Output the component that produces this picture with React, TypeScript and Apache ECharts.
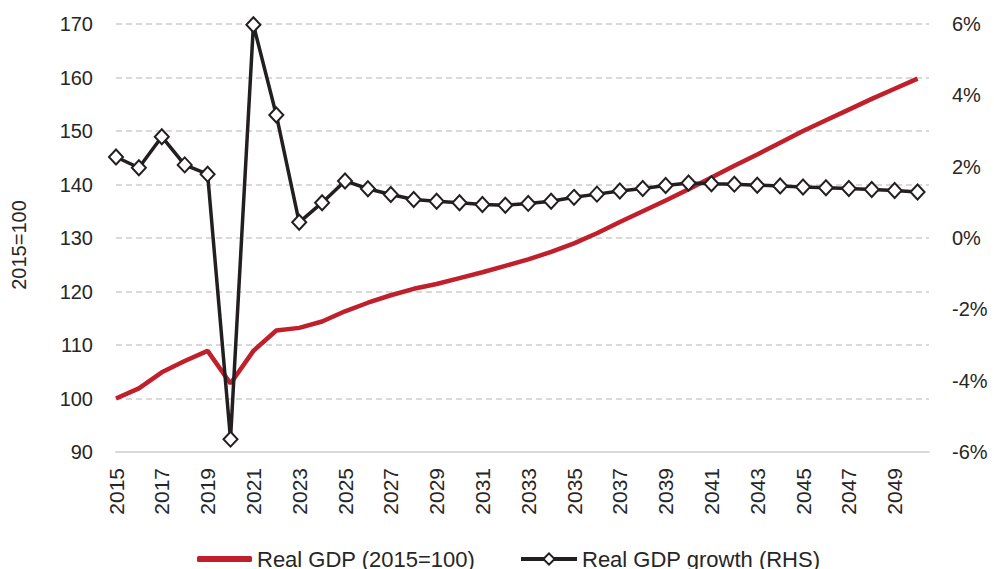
import React, { useEffect, useRef } from "react";
import * as echarts from "echarts";

const years = [
  2015, 2016, 2017, 2018, 2019, 2020, 2021, 2022, 2023, 2024, 2025, 2026,
  2027, 2028, 2029, 2030, 2031, 2032, 2033, 2034, 2035, 2036, 2037, 2038,
  2039, 2040, 2041, 2042, 2043, 2044, 2045, 2046, 2047, 2048, 2049, 2050,
];

const realGdp = [
  100, 101.9, 104.9, 107.0, 108.9, 102.8, 108.9, 112.7, 113.2, 114.4, 116.3,
  117.9, 119.3, 120.5, 121.4, 122.5, 123.6, 124.8, 126.0, 127.4, 129.0, 130.9,
  133.0, 135.0, 137.0, 139.1, 141.3, 143.5, 145.6, 147.8, 150.0, 152.0, 154.0,
  156.0, 157.9, 159.8,
];

const gdpGrowth = [
  2.27, 1.97, 2.84, 2.05, 1.79, -5.64, 5.98, 3.45, 0.44, 0.99, 1.6, 1.38, 1.22,
  1.08, 1.03, 0.99, 0.94, 0.92, 0.97, 1.03, 1.14, 1.23, 1.32, 1.39, 1.47, 1.54,
  1.52, 1.51, 1.48, 1.46, 1.43, 1.41, 1.39, 1.36, 1.33, 1.29,
];

const seriesNames = ["Real GDP (2015=100)", "Real GDP growth (RHS)"];
const leftAxisTitle = "2015=100";

const FONT = "Liberation Sans, Arial, sans-serif";
const TEXT = "#262626";
const RED = "#C0202B";
const BLACK = "#231F20";

export default function App() {
  const ref = useRef<HTMLDivElement>(null);

  useEffect(() => {
    if (!ref.current) return;
    const chart = echarts.init(ref.current, undefined, { renderer: "svg" });
    const legendText = { fontSize: 22, color: TEXT, fontFamily: FONT };
    const option: any = {
      animation: false,
      backgroundColor: "#ffffff",
      textStyle: { fontFamily: FONT },
      grid: { left: 116, right: 65, top: 24, bottom: 117, containLabel: false },
      legend: [
        {
          left: 192,
          top: 543,
          itemWidth: 55,
          itemHeight: 6,
          itemGap: 4,
          textStyle: legendText,
          data: [{ name: seriesNames[0], icon: "roundRect", itemStyle: { color: RED } }],
        },
        {
          left: 514,
          top: 543,
          itemWidth: 56,
          itemHeight: 14,
          textStyle: legendText,
          lineStyle: { width: 4 },
          data: [seriesNames[1]],
        },
      ],
      xAxis: {
        type: "value",
        min: 0,
        max: years.length - 0.5,
        interval: 2,
        axisLine: { show: true, onZero: false, lineStyle: { color: "#d9d9d9", width: 2 } },
        axisTick: { show: false },
        splitLine: { show: false },
        axisLabel: {
          rotate: 90,
          margin: 16,
          fontSize: 21,
          color: TEXT,
          fontFamily: FONT,
          formatter: (v: number) => (years[v] !== undefined ? String(years[v]) : ""),
          showMaxLabel: false,
        },
      },
      yAxis: [
        {
          type: "value",
          min: 90,
          max: 170,
          interval: 10,
          axisLine: { show: false },
          axisTick: { show: false },
          splitLine: { show: true, lineStyle: { color: "#d9d9d9", width: 2, type: [6, 4] } },
          axisLabel: { fontSize: 20, color: TEXT, margin: 23, fontFamily: FONT },
        },
        {
          type: "value",
          min: -6,
          max: 6,
          interval: 2,
          axisLine: { show: false },
          axisTick: { show: false },
          splitLine: { show: false },
          axisLabel: { fontSize: 20, color: TEXT, margin: 23, fontFamily: FONT, formatter: "{value}%" },
        },
      ],
      graphic: [
        {
          type: "text",
          x: 19,
          y: 245,
          rotation: Math.PI / 2,
          style: {
            text: leftAxisTitle,
            font: `20px ${FONT}`,
            fill: TEXT,
            align: "center",
            verticalAlign: "middle",
          },
        },
      ],
      series: [
        {
          name: seriesNames[0],
          type: "line",
          yAxisIndex: 0,
          symbol: "none",
          lineStyle: { color: RED, width: 4.5 },
          itemStyle: { color: RED },
          data: realGdp.map((v, i) => [i, v]),
          z: 2,
        },
        {
          name: seriesNames[1],
          type: "line",
          yAxisIndex: 1,
          symbol: "diamond",
          symbolSize: [14, 15],
          showSymbol: true,
          lineStyle: { color: BLACK, width: 3.5 },
          itemStyle: { color: "#ffffff", borderColor: BLACK, borderWidth: 2 },
          data: gdpGrowth.map((v, i) => [i, v]),
          z: 3,
        },
      ],
    };
    chart.setOption(option);
    return () => chart.dispose();
  }, []);

  return (
    <div
      ref={ref}
      style={{ position: "fixed", left: 0, top: 0, width: 994, height: 569, background: "#fff" }}
    />
  );
}
